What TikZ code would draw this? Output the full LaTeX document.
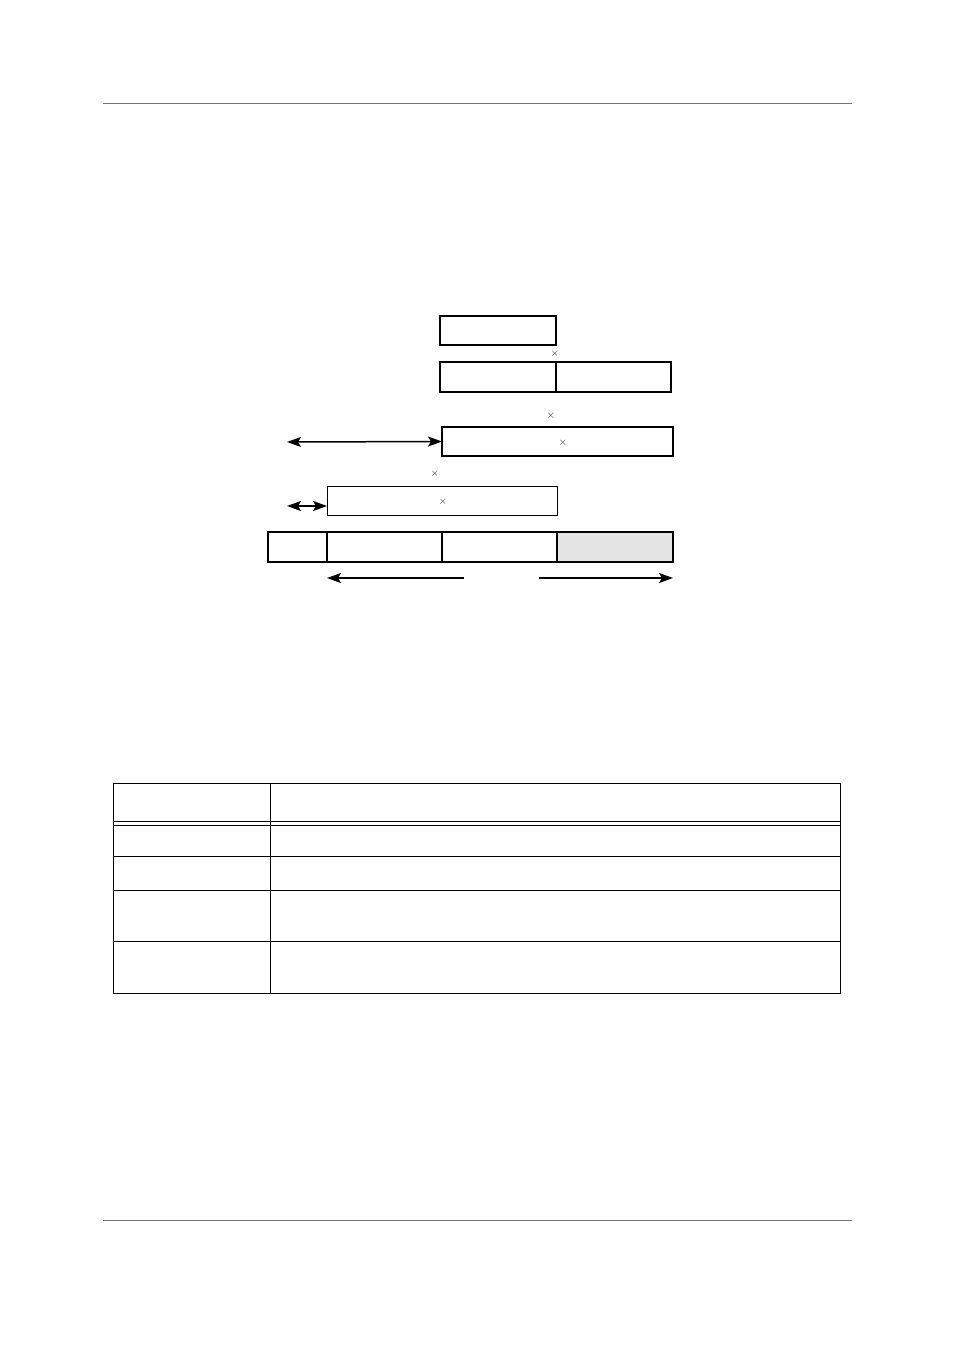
\documentclass[tikz,border=0pt]{standalone}
\usetikzlibrary{arrows.meta}
\begin{document}
\begin{tikzpicture}[x=1pt,y=-1pt,
  cell/.style={draw=black,anchor=north west,inner sep=0pt,outer sep=0pt},
  xmark/.style={inner sep=0pt,text=black!85,font=\fontsize{11}{11}\selectfont},
  arr/.style={line width=1.5pt,-{Stealth[length=14pt,width=10pt,inset=3pt]}},
  darr/.style={line width=1.5pt,{Stealth[length=14pt,width=10pt,inset=3pt]}-{Stealth[length=14pt,width=10pt,inset=3pt]}},
  rulel/.style={draw=black!55,line width=1pt},
  tab/.style={line width=1pt}]
\useasboundingbox (0,0) rectangle (954,1351);
% page rules
\coordinate (r1a) at (103,104); \coordinate (r1b) at (852,104);
\coordinate (r2a) at (103,1220); \coordinate (r2b) at (852,1220);
\draw[rulel] (r1a) -- (r1b);
\draw[rulel] (r2a) -- (r2b);
% box A
\node[cell,line width=1.1pt,minimum width=116pt,minimum height=29pt] (a) at (440,316) {};
\draw[line width=2pt] (a.north east) -- (a.south east);
\node[xmark] (x1) at (555,354) {$\times$};
% box B
\node[cell,line width=1.6pt,minimum width=116pt,minimum height=30pt] (b1) at (440,362) {};
\node[cell,line width=1.6pt,minimum width=115pt,minimum height=30pt] (b2) at (556,362) {};
\node[xmark] (x2) at (551,416) {$\times$};
% box C
\node[cell,line width=2pt,minimum width=231pt,minimum height=29pt] (c) at (442,427) {};
\node[xmark] (x3) at (563,443) {$\times$};
\coordinate (ca) at (287,442);
\draw[darr] (ca) -- (c.west);
\node[xmark] (x4) at (435,474) {$\times$};
% box D
\node[cell,line width=1pt,minimum width=230pt,minimum height=29pt] (d) at (327,486) {};
\node[xmark] (x5) at (443,502) {$\times$};
\coordinate (da) at (287,506);
\draw[darr] (da) -- (d.west|-da);
% box E
\node[cell,line width=2pt,minimum width=59pt,minimum height=30pt] (e1) at (268,532) {};
\node[cell,line width=2pt,minimum width=115pt,minimum height=30pt] (e2) at (327,532) {};
\node[cell,line width=2pt,minimum width=115pt,minimum height=30pt] (e3) at (442,532) {};
\node[cell,line width=2pt,fill=black!10,minimum width=116pt,minimum height=30pt] (e4) at (557,532) {};
\coordinate (la) at (464,578); \coordinate (lb) at (327,578);
\coordinate (ra) at (539,578); \coordinate (rb) at (673,578);
\draw[arr] (la) -- (lb);
\draw[arr] (ra) -- (rb);
% table
\draw[tab] (113,783) rectangle (840,993);
\draw[tab] (270,783) -- (270,993);
\draw[tab] (113,821) -- (840,821);
\draw[tab] (113,825) -- (840,825);
\draw[tab] (113,856) -- (840,856);
\draw[tab] (113,890) -- (840,890);
\draw[tab] (113,941) -- (840,941);
\end{tikzpicture}
\end{document}
